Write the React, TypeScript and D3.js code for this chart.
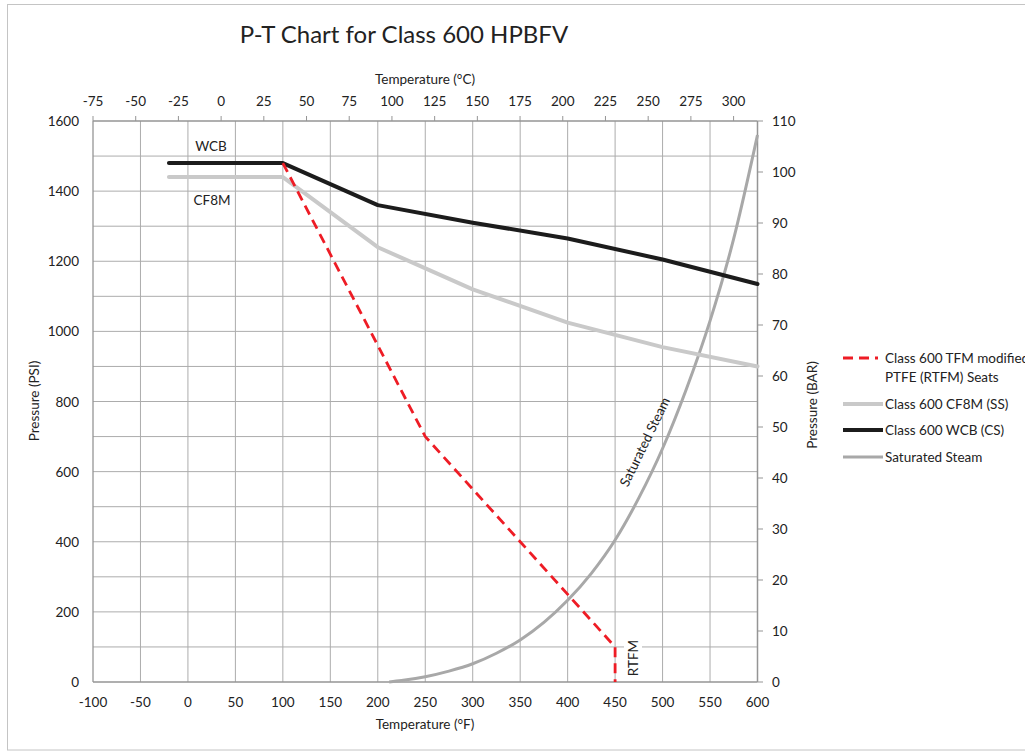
import React from "react";
import * as d3 from "d3";

const wcbTemps = [-20, 100, 200, 300, 400, 500, 600];
const wcbPsi = [1480, 1480, 1360, 1310, 1265, 1205, 1135];
const cf8mTemps = [-20, 100, 200, 300, 400, 500, 600];
const cf8mPsi = [1440, 1440, 1240, 1120, 1025, 955, 900];
const rtfmTemps = [100, 250, 450, 450];
const rtfmPsi = [1480, 700, 100, 0];
const steamTemps = [212, 225, 250, 275, 300, 325, 350, 375, 400, 425, 450, 475, 500, 525, 550, 575, 600];
const steamPsi = [0, 4, 15, 31, 52, 82, 120, 170, 233, 310, 405, 525, 666, 835, 1030, 1265, 1560];

const fTicks = [-100, -50, 0, 50, 100, 150, 200, 250, 300, 350, 400, 450, 500, 550, 600];
const cTicks = [-75, -50, -25, 0, 25, 50, 75, 100, 125, 150, 175, 200, 225, 250, 275, 300];
const psiTicks = [0, 200, 400, 600, 800, 1000, 1200, 1400, 1600];
const psiGrid = [100, 200, 300, 400, 500, 600, 700, 800, 900, 1000, 1100, 1200, 1300, 1400, 1500];
const barTicks = [0, 10, 20, 30, 40, 50, 60, 70, 80, 90, 100, 110];

const legendItems = [
  { key: "rtfm", label: ["Class 600 TFM modified", "PTFE (RTFM) Seats"] },
  { key: "cf8m", label: ["Class 600 CF8M (SS)"] },
  { key: "wcb", label: ["Class 600 WCB (CS)"] },
  { key: "steam", label: ["Saturated Steam"] },
];

const FONT = "Lato, 'Open Sans', sans-serif";
const FS = 13.5;

export default function App() {
  const x = d3.scaleLinear().domain([-100, 600]).range([93, 757.5]);
  const xC = d3.scaleLinear().domain([-75, 314]).range([93, 757.5]);
  const y = d3.scaleLinear().domain([0, 1600]).range([682, 121]);
  const yBar = d3.scaleLinear().domain([0, 110]).range([682, 121]);

  const line = d3
    .line<[number, number]>()
    .x((d) => x(d[0]))
    .y((d) => y(d[1]));
  const smooth = d3
    .line<[number, number]>()
    .x((d) => x(d[0]))
    .y((d) => y(d[1]))
    .curve(d3.curveMonotoneX);

  const zip = (a: number[], b: number[]) => a.map((v, i) => [v, b[i]] as [number, number]);

  const styles: Record<string, any> = {
    rtfm: { stroke: "#ee1c25", strokeWidth: 2.8, strokeDasharray: "10 6" },
    cf8m: { stroke: "#c9c9c9", strokeWidth: 4, strokeLinecap: "round" },
    wcb: { stroke: "#1c1c1c", strokeWidth: 4, strokeLinecap: "round" },
    steam: { stroke: "#a8a8a8", strokeWidth: 3 },
  };

  const gridColor = "#acacac";
  const axisColor = "#959595";
  const textColor = "#222";

  return (
    <svg
      width={1025}
      height={751}
      style={{ position: "absolute", left: 0, top: 0, background: "#fff" }}
      fontFamily={FONT}
    >
      <rect x={7.5} y={4.5} width={1030} height={745.5} fill="#fff" stroke="#c4c4c4" strokeWidth={1} />
      <text x={404} y={43} textAnchor="middle" fontSize={24} fill="#222">
        P-T Chart for Class 600 HPBFV
      </text>

      {/* grid */}
      {fTicks.slice(1, -1).map((t) => (
        <line key={"vg" + t} x1={x(t)} x2={x(t)} y1={121} y2={682} stroke={gridColor} strokeWidth={1} />
      ))}
      {psiGrid.map((t) => (
        <line key={"hg" + t} x1={93} x2={757.5} y1={y(t)} y2={y(t)} stroke={gridColor} strokeWidth={1} />
      ))}

      {/* axes */}
      <line x1={93} x2={93} y1={121} y2={682} stroke={axisColor} strokeWidth={1.3} />
      <line x1={93} x2={757.5} y1={682} y2={682} stroke={axisColor} strokeWidth={1.3} />
      <line x1={93} x2={757.5} y1={121} y2={121} stroke={axisColor} strokeWidth={1.3} />
      <line x1={757.5} x2={757.5} y1={121} y2={682} stroke={axisColor} strokeWidth={1.5} />

      {cTicks.map((t) => (
        <g key={"ct" + t}>
          <line x1={xC(t)} x2={xC(t)} y1={121} y2={116} stroke={axisColor} />
          <text x={xC(t)} y={106} textAnchor="middle" fontSize={FS} fill={textColor}>
            {t}
          </text>
        </g>
      ))}
      {barTicks.map((t) => (
        <g key={"bt" + t}>
          <line x1={757.5} x2={763} y1={yBar(t)} y2={yBar(t)} stroke={axisColor} />
          <text x={772} y={yBar(t) + 5} fontSize={FS} fill={textColor}>
            {t}
          </text>
        </g>
      ))}
      {fTicks.map((t) => (
        <text key={"ft" + t} x={x(t)} y={707} textAnchor="middle" fontSize={FS} fill={textColor}>
          {t}
        </text>
      ))}
      {psiTicks.map((t) => (
        <text key={"pt" + t} x={79} y={y(t) + 5} textAnchor="end" fontSize={FS} fill={textColor}>
          {t}
        </text>
      ))}

      <text x={425} y={84} textAnchor="middle" fontSize={FS} fill={textColor}>
        Temperature (°C)
      </text>
      <text x={425} y={729} textAnchor="middle" fontSize={FS} fill={textColor}>
        Temperature (°F)
      </text>
      <text transform="translate(39,401) rotate(-90)" textAnchor="middle" fontSize={FS} fill={textColor}>
        Pressure (PSI)
      </text>
      <text transform="translate(817,405) rotate(-90)" textAnchor="middle" fontSize={FS} fill={textColor}>
        Pressure (BAR)
      </text>

      {/* series */}
      <path d={smooth(zip(steamTemps, steamPsi)) || ""} fill="none" {...styles.steam} />
      <path d={line(zip(cf8mTemps, cf8mPsi)) || ""} fill="none" {...styles.cf8m} strokeLinejoin="round" />
      <path d={line(zip(wcbTemps, wcbPsi)) || ""} fill="none" {...styles.wcb} strokeLinejoin="round" />
      <path d={line(zip(rtfmTemps, rtfmPsi)) || ""} fill="none" {...styles.rtfm} />

      {/* annotations */}
      <text x={211} y={151} textAnchor="middle" fontSize={FS} fill={textColor}>
        WCB
      </text>
      <text x={212} y={205} textAnchor="middle" fontSize={FS} fill={textColor}>
        CF8M
      </text>
      <g transform="translate(645,442) rotate(-64)">
        <text x={0} y={4.5} textAnchor="middle" fontSize={FS} fill={textColor}>
          Saturated Steam
        </text>
      </g>
      <rect x={624} y={638} width={18} height={40} fill="#fff" />
      <text transform="translate(638,658) rotate(-90)" textAnchor="middle" fontSize={FS} fill={textColor}>
        RTFM
      </text>

      {/* legend */}
      {legendItems.map((it, i) => {
        const ly = [358, 404, 430, 457][i];
        return (
          <g key={it.key}>
            <line x1={843} x2={it.key === "rtfm" ? 878 : 883} y1={ly} y2={ly} {...styles[it.key]} strokeLinecap="butt" />
            {it.label.map((l, j) => (
              <text key={j} x={885} y={ly + 5 + j * 19} fontSize={FS} fill={textColor}>
                {l}
              </text>
            ))}
          </g>
        );
      })}
    </svg>
  );
}
